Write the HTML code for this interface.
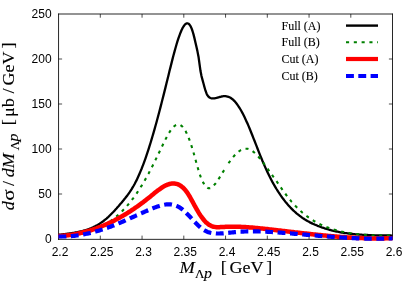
<!DOCTYPE html>
<html>
<head>
<meta charset="utf-8">
<title>Invariant mass spectrum</title>
<style>
html,body{margin:0;padding:0;background:#fff;}
body{width:414px;height:290px;overflow:hidden;}
svg{display:block;will-change:transform;}
.tk{font-family:"Liberation Sans",sans-serif;font-size:12px;fill:#000;}
.lg{font-family:"Liberation Serif",serif;font-size:12px;fill:#000;stroke:#000;stroke-width:0.1px;}
.ax{font-family:"Liberation Serif",serif;font-size:16.7px;fill:#000;stroke:#000;stroke-width:0.12px;}
.it{font-style:italic;}
.sub{font-size:13px;}
.subp{font-size:14.4px;font-style:italic;}
</style>
</head>
<body>
<svg width="414" height="290" viewBox="0 0 414 290">
<rect x="0" y="0" width="414" height="290" fill="#fff"/>
<!-- frame -->
<g fill="none" stroke="#000" stroke-width="0.85">
<path d="M58.55,13.6V239.8M392.5,13.6V239.8M58.1,14H392.9M58.1,239.35H392.9"/>
</g>
<g fill="none" stroke="#000" stroke-width="0.7">
<path d="M58.5,59h3.6M58.5,104h3.6M58.5,149h3.6M58.5,194h3.6M392.5,59h-3.6M392.5,104h-3.6M392.5,149h-3.6M392.5,194h-3.6"/>
<path d="M100.3,239.3v-3.7M142.05,239.3v-3.7M183.8,239.3v-3.7M225.55,239.3v-3.7M267.3,239.3v-3.7M309.05,239.3v-3.7M350.8,239.3v-3.7M100.3,14v3.7M142.05,14v3.7M183.8,14v3.7M225.55,14v3.7M267.3,14v3.7M309.05,14v3.7M350.8,14v3.7"/>
</g>
<!-- curves -->
<g fill="none" stroke-linejoin="round">
<path d="M58.5,234.9L59.5,234.7L60.5,234.6L61.5,234.5L62.5,234.3L63.5,234.2L64.5,234.1L65.5,234.0L66.5,233.8L67.5,233.7L68.5,233.6L69.5,233.4L70.5,233.3L71.5,233.1L72.5,233.0L73.5,232.8L74.5,232.7L75.5,232.5L76.5,232.3L77.5,232.1L78.5,231.9L79.5,231.7L80.5,231.5L81.5,231.3L82.5,231.0L83.5,230.7L84.5,230.5L85.5,230.2L86.5,229.8L87.5,229.5L88.5,229.2L89.5,228.8L90.5,228.4L91.5,228.0L92.5,227.5L93.5,227.1L94.5,226.6L95.5,226.1L96.5,225.5L97.5,225.0L98.5,224.4L99.5,223.8L100.5,223.1L101.5,222.4L102.5,221.7L103.5,221.0L104.5,220.2L105.5,219.4L106.5,218.6L107.5,217.7L108.5,216.8L109.5,215.8L110.5,214.8L111.5,213.8L112.5,212.8L113.5,211.8L114.5,210.7L115.5,209.6L116.5,208.5L117.5,207.3L118.5,206.2L119.5,205.0L120.5,203.8L121.5,202.7L122.5,201.5L123.5,200.3L124.5,199.0L125.5,197.8L126.5,196.5L127.5,195.2L128.5,193.8L129.5,192.4L130.5,190.9L131.5,189.4L132.5,187.7L133.5,186.0L134.5,184.2L135.5,182.3L136.5,180.4L137.5,178.3L138.5,176.1L139.5,173.8L140.5,171.4L141.5,169.0L142.5,166.4L143.5,163.8L144.5,161.1L145.5,158.3L146.5,155.4L147.5,152.4L148.5,149.3L149.5,146.2L150.5,143.0L151.5,139.7L152.5,136.3L153.5,132.9L154.5,129.4L155.5,125.8L156.5,122.2L157.5,118.5L158.5,114.8L159.5,111.0L160.5,107.1L161.5,103.3L162.5,99.3L163.5,95.4L164.5,91.4L165.5,87.4L166.5,83.3L167.5,79.3L168.5,75.2L169.5,71.1L170.5,67.1L171.5,63.1L172.5,59.1L173.5,55.3L174.5,51.6L175.5,48.0L176.5,44.5L177.5,41.2L178.5,38.2L179.5,35.3L180.5,32.7L181.5,30.3L182.5,28.2L183.5,26.5L184.5,25.1L185.5,24.0L186.5,23.4L187.5,23.3L188.5,23.7L189.5,24.6L190.5,26.1L191.5,28.2L192.5,31.0L193.5,34.4L194.5,38.4L195.5,42.7L196.5,47.1L197.5,51.6L198.5,56.7L199.5,63.9L200.5,71.1L201.5,76.1L202.5,79.9L203.5,83.5L204.5,87.2L205.5,90.7L206.5,93.4L207.5,95.4L208.5,96.7L209.5,97.5L210.5,98.0L211.5,98.3L212.5,98.4L213.5,98.4L214.5,98.3L215.5,98.1L216.5,97.9L217.5,97.6L218.5,97.3L219.5,97.0L220.5,96.8L221.5,96.5L222.5,96.3L223.5,96.2L224.5,96.2L225.5,96.2L226.5,96.4L227.5,96.6L228.5,96.9L229.5,97.3L230.5,97.8L231.5,98.5L232.5,99.2L233.5,100.1L234.5,101.1L235.5,102.3L236.5,103.5L237.5,104.9L238.5,106.3L239.5,107.9L240.5,109.5L241.5,111.3L242.5,113.1L243.5,115.1L244.5,117.1L245.5,119.2L246.5,121.4L247.5,123.6L248.5,125.9L249.5,128.3L250.5,130.7L251.5,133.2L252.5,135.7L253.5,138.3L254.5,140.8L255.5,143.4L256.5,145.9L257.5,148.5L258.5,151.1L259.5,153.6L260.5,156.1L261.5,158.5L262.5,161.0L263.5,163.3L264.5,165.6L265.5,167.9L266.5,170.1L267.5,172.2L268.5,174.3L269.5,176.3L270.5,178.3L271.5,180.2L272.5,182.1L273.5,183.9L274.5,185.6L275.5,187.3L276.5,189.0L277.5,190.6L278.5,192.2L279.5,193.7L280.5,195.2L281.5,196.6L282.5,198.0L283.5,199.3L284.5,200.6L285.5,201.9L286.5,203.1L287.5,204.3L288.5,205.4L289.5,206.5L290.5,207.6L291.5,208.6L292.5,209.6L293.5,210.6L294.5,211.5L295.5,212.4L296.5,213.3L297.5,214.1L298.5,214.9L299.5,215.7L300.5,216.4L301.5,217.2L302.5,217.9L303.5,218.5L304.5,219.2L305.5,219.8L306.5,220.4L307.5,221.0L308.5,221.5L309.5,222.1L310.5,222.6L311.5,223.1L312.5,223.6L313.5,224.0L314.5,224.5L315.5,224.9L316.5,225.3L317.5,225.8L318.5,226.1L319.5,226.5L320.5,226.9L321.5,227.3L322.5,227.6L323.5,227.9L324.5,228.3L325.5,228.6L326.5,228.9L327.5,229.2L328.5,229.5L329.5,229.8L330.5,230.0L331.5,230.3L332.5,230.6L333.5,230.8L334.5,231.0L335.5,231.3L336.5,231.5L337.5,231.7L338.5,231.9L339.5,232.1L340.5,232.3L341.5,232.5L342.5,232.6L343.5,232.8L344.5,233.0L345.5,233.1L346.5,233.2L347.5,233.4L348.5,233.5L349.5,233.6L350.5,233.8L351.5,233.9L352.5,234.0L353.5,234.1L354.5,234.2L355.5,234.3L356.5,234.4L357.5,234.4L358.5,234.5L359.5,234.6L360.5,234.7L361.5,234.7L362.5,234.8L363.5,234.9L364.5,234.9L365.5,235.0L366.5,235.0L367.5,235.0L368.5,235.1L369.5,235.1L370.5,235.2L371.5,235.2L372.5,235.2L373.5,235.2L374.5,235.3L375.5,235.3L376.5,235.3L377.5,235.3L378.5,235.4L379.5,235.4L380.5,235.4L381.5,235.4L382.5,235.4L383.5,235.4L384.5,235.5L385.5,235.5L386.5,235.5L387.5,235.5L388.5,235.5L389.5,235.5L390.5,235.5L391.5,235.6L392.5,235.6" stroke="#000" stroke-width="2.3"/>
<path d="M58.5,236.5L59.5,236.5L60.5,236.4L61.5,236.3L62.5,236.2L63.5,236.2L64.5,236.1L65.5,236.0L66.5,235.9L67.5,235.8L68.5,235.7L69.5,235.6L70.5,235.5L71.5,235.3L72.5,235.2L73.5,235.1L74.5,234.9L75.5,234.8L76.5,234.6L77.5,234.5L78.5,234.3L79.5,234.1L80.5,233.9L81.5,233.7L82.5,233.5L83.5,233.2L84.5,233.0L85.5,232.7L86.5,232.4L87.5,232.2L88.5,231.9L89.5,231.6L90.5,231.2L91.5,230.9L92.5,230.5L93.5,230.2L94.5,229.8L95.5,229.4L96.5,228.9L97.5,228.5L98.5,228.1L99.5,227.6L100.5,227.1L101.5,226.6L102.5,226.0L103.5,225.5L104.5,224.9L105.5,224.3L106.5,223.7L107.5,223.1L108.5,222.4L109.5,221.8L110.5,221.1L111.5,220.3L112.5,219.6L113.5,218.8L114.5,218.0L115.5,217.2L116.5,216.4L117.5,215.5L118.5,214.6L119.5,213.7L120.5,212.7L121.5,211.8L122.5,210.8L123.5,209.7L124.5,208.7L125.5,207.6L126.5,206.5L127.5,205.3L128.5,204.1L129.5,202.9L130.5,201.7L131.5,200.4L132.5,199.1L133.5,197.8L134.5,196.4L135.5,195.0L136.5,193.6L137.5,192.1L138.5,190.6L139.5,189.1L140.5,187.5L141.5,185.9L142.5,184.3L143.5,182.6L144.5,180.9L145.5,179.1L146.5,177.4L147.5,175.5L148.5,173.7L149.5,171.8L150.5,169.9L151.5,167.9L152.5,166.0L153.5,164.0L154.5,161.9L155.5,159.9L156.5,157.9L157.5,155.8L158.5,153.7L159.5,151.7L160.5,149.6L161.5,147.5L162.5,145.5L163.5,143.4L164.5,141.4L165.5,139.4L166.5,137.5L167.5,135.7L168.5,133.9L169.5,132.2L170.5,130.7L171.5,129.3L172.5,128.0L173.5,126.9L174.5,126.0L175.5,125.3L176.5,124.8L177.5,124.5L178.5,124.4L179.5,124.6L180.5,125.1L181.5,125.8L182.5,126.7L183.5,127.9L184.5,129.3L185.5,131.0L186.5,132.9L187.5,135.1L188.5,137.4L189.5,140.0L190.5,142.8L191.5,145.9L192.5,149.1L193.5,152.5L194.5,156.1L195.5,159.7L196.5,163.3L197.5,166.8L198.5,170.2L199.5,173.4L200.5,176.3L201.5,178.9L202.5,181.1L203.5,183.1L204.5,184.8L205.5,186.1L206.5,187.1L207.5,187.8L208.5,188.2L209.5,188.3L210.5,188.1L211.5,187.6L212.5,186.8L213.5,185.9L214.5,184.7L215.5,183.5L216.5,182.2L217.5,180.7L218.5,179.2L219.5,177.6L220.5,176.0L221.5,174.4L222.5,172.7L223.5,171.1L224.5,169.4L225.5,167.9L226.5,166.3" stroke="#008000" stroke-width="2.1" stroke-dasharray="3 4.68" stroke-dashoffset="6.90"/>
<path d="M226.5,166.3L227.5,164.8L228.5,163.3L229.5,161.9L230.5,160.5L231.5,159.1L232.5,157.9L233.5,156.7L234.5,155.5L235.5,154.5L236.5,153.5L237.5,152.6L238.5,151.7L239.5,151.0L240.5,150.3L241.5,149.8L242.5,149.4L243.5,149.0L244.5,148.8L245.5,148.7L246.5,148.7L247.5,148.8L248.5,149.1L249.5,149.4L250.5,149.9L251.5,150.5L252.5,151.1L253.5,151.9L254.5,152.7L255.5,153.6L256.5,154.6L257.5,155.7L258.5,156.8L259.5,158.0L260.5,159.2L261.5,160.5L262.5,161.8L263.5,163.1L264.5,164.5L265.5,165.8L266.5,167.2L267.5,168.6L268.5,170.0L269.5,171.4L270.5,172.8L271.5,174.2L272.5,175.6L273.5,177.0L274.5,178.4L275.5,179.8L276.5,181.2L277.5,182.6L278.5,184.1L279.5,185.5L280.5,186.9L281.5,188.4L282.5,189.8L283.5,191.2L284.5,192.6L285.5,194.0L286.5,195.3L287.5,196.7L288.5,197.9L289.5,199.2L290.5,200.4L291.5,201.6L292.5,202.7L293.5,203.8L294.5,204.9L295.5,206.0L296.5,207.0L297.5,208.0L298.5,209.0L299.5,210.0L300.5,210.9L301.5,211.8L302.5,212.7L303.5,213.5L304.5,214.3L305.5,215.1L306.5,215.9L307.5,216.6L308.5,217.4L309.5,218.1L310.5,218.8L311.5,219.4L312.5,220.1L313.5,220.7L314.5,221.3L315.5,221.8L316.5,222.4L317.5,222.9L318.5,223.5L319.5,224.0L320.5,224.5L321.5,224.9L322.5,225.4L323.5,225.8L324.5,226.3L325.5,226.7L326.5,227.1L327.5,227.4L328.5,227.8L329.5,228.2L330.5,228.5L331.5,228.8L332.5,229.1L333.5,229.5L334.5,229.7L335.5,230.0L336.5,230.3L337.5,230.6L338.5,230.8L339.5,231.1L340.5,231.3L341.5,231.6L342.5,231.8L343.5,232.0L344.5,232.2L345.5,232.4L346.5,232.6L347.5,232.8L348.5,232.9L349.5,233.1L350.5,233.3L351.5,233.4L352.5,233.6L353.5,233.7L354.5,233.8L355.5,234.0L356.5,234.1L357.5,234.2L358.5,234.3L359.5,234.4L360.5,234.5L361.5,234.6L362.5,234.7L363.5,234.8L364.5,234.8L365.5,234.9L366.5,235.0L367.5,235.0L368.5,235.1L369.5,235.2L370.5,235.2L371.5,235.2L372.5,235.3L373.5,235.3L374.5,235.4L375.5,235.4L376.5,235.4L377.5,235.4L378.5,235.5L379.5,235.5L380.5,235.5L381.5,235.5L382.5,235.5L383.5,235.5L384.5,235.5L385.5,235.5L386.5,235.6L387.5,235.6L388.5,235.6L389.5,235.6L390.5,235.6L391.5,235.6L392.5,235.6" stroke="#008000" stroke-width="2.1" stroke-dasharray="3 4.68" stroke-dashoffset="4.00"/>
<path d="M58.5,236.1L59.5,236.0L60.5,236.0L61.5,235.9L62.5,235.8L63.5,235.7L64.5,235.6L65.5,235.5L66.5,235.4L67.5,235.3L68.5,235.2L69.5,235.1L70.5,234.9L71.5,234.8L72.5,234.6L73.5,234.4L74.5,234.3L75.5,234.1L76.5,233.9L77.5,233.7L78.5,233.5L79.5,233.3L80.5,233.0L81.5,232.8L82.5,232.5L83.5,232.3L84.5,232.0L85.5,231.8L86.5,231.5L87.5,231.2L88.5,230.9L89.5,230.6L90.5,230.3L91.5,230.0L92.5,229.7L93.5,229.3L94.5,229.0L95.5,228.6L96.5,228.3L97.5,227.9L98.5,227.5L99.5,227.1L100.5,226.8L101.5,226.3L102.5,225.9L103.5,225.5L104.5,225.1L105.5,224.7L106.5,224.2L107.5,223.8L108.5,223.3L109.5,222.8L110.5,222.4L111.5,221.9L112.5,221.4L113.5,220.9L114.5,220.4L115.5,219.8L116.5,219.3L117.5,218.8L118.5,218.2L119.5,217.7L120.5,217.1L121.5,216.6L122.5,216.0L123.5,215.4L124.5,214.8L125.5,214.2L126.5,213.6L127.5,213.0L128.5,212.3L129.5,211.7L130.5,211.1L131.5,210.4L132.5,209.7L133.5,209.1L134.5,208.4L135.5,207.7L136.5,207.0L137.5,206.3L138.5,205.6L139.5,204.9L140.5,204.1L141.5,203.4L142.5,202.7L143.5,201.9L144.5,201.1L145.5,200.4L146.5,199.6L147.5,198.8L148.5,198.0L149.5,197.2L150.5,196.4L151.5,195.6L152.5,194.8L153.5,193.9L154.5,193.1L155.5,192.3L156.5,191.5L157.5,190.7L158.5,190.0L159.5,189.3L160.5,188.6L161.5,187.9L162.5,187.2L163.5,186.6L164.5,186.1L165.5,185.6L166.5,185.1L167.5,184.7L168.5,184.3L169.5,184.0L170.5,183.8L171.5,183.6L172.5,183.5L173.5,183.5L174.5,183.6L175.5,183.7L176.5,183.9L177.5,184.2L178.5,184.6L179.5,185.1L180.5,185.7L181.5,186.4L182.5,187.2L183.5,188.2L184.5,189.2L185.5,190.3L186.5,191.6L187.5,193.0L188.5,194.6L189.5,196.2L190.5,198.0L191.5,199.8L192.5,201.6L193.5,203.5L194.5,205.4L195.5,207.2L196.5,209.0L197.5,210.7L198.5,212.4L199.5,214.0L200.5,215.5L201.5,216.9L202.5,218.3L203.5,219.5L204.5,220.7L205.5,221.8L206.5,222.8L207.5,223.6L208.5,224.4L209.5,225.1L210.5,225.6L211.5,226.1L212.5,226.5L213.5,226.7L214.5,226.9L215.5,227.1L216.5,227.2L217.5,227.2L218.5,227.2L219.5,227.2L220.5,227.1L221.5,227.1L222.5,227.0L223.5,226.9L224.5,226.9L225.5,226.8L226.5,226.8L227.5,226.8L228.5,226.7L229.5,226.7L230.5,226.7L231.5,226.7L232.5,226.7L233.5,226.7L234.5,226.7L235.5,226.7L236.5,226.7L237.5,226.7L238.5,226.8L239.5,226.8L240.5,226.8L241.5,226.9L242.5,226.9L243.5,227.0L244.5,227.0L245.5,227.1L246.5,227.2L247.5,227.2L248.5,227.3L249.5,227.4L250.5,227.5L251.5,227.5L252.5,227.6L253.5,227.7L254.5,227.8L255.5,227.9L256.5,228.0L257.5,228.1L258.5,228.2L259.5,228.3L260.5,228.4L261.5,228.5L262.5,228.6L263.5,228.7L264.5,228.8L265.5,228.9L266.5,229.0L267.5,229.1L268.5,229.2L269.5,229.4L270.5,229.5L271.5,229.6L272.5,229.7L273.5,229.8L274.5,229.9L275.5,230.0L276.5,230.2L277.5,230.3L278.5,230.4L279.5,230.5L280.5,230.6L281.5,230.7L282.5,230.9L283.5,231.0L284.5,231.1L285.5,231.2L286.5,231.3L287.5,231.4L288.5,231.6L289.5,231.7L290.5,231.8L291.5,231.9L292.5,232.0L293.5,232.1L294.5,232.3L295.5,232.4L296.5,232.5L297.5,232.6L298.5,232.7L299.5,232.8L300.5,232.9L301.5,233.1L302.5,233.2L303.5,233.3L304.5,233.4L305.5,233.5L306.5,233.6L307.5,233.7L308.5,233.8L309.5,234.0L310.5,234.1L311.5,234.2L312.5,234.3L313.5,234.4L314.5,234.5L315.5,234.6L316.5,234.7L317.5,234.8L318.5,234.9L319.5,235.0L320.5,235.1L321.5,235.2L322.5,235.3L323.5,235.4L324.5,235.5L325.5,235.6L326.5,235.7L327.5,235.8L328.5,235.9L329.5,236.0L330.5,236.1L331.5,236.2L332.5,236.2L333.5,236.3L334.5,236.4L335.5,236.5L336.5,236.6L337.5,236.7L338.5,236.7L339.5,236.8L340.5,236.9L341.5,237.0L342.5,237.0L343.5,237.1L344.5,237.2L345.5,237.3L346.5,237.3L347.5,237.4L348.5,237.5L349.5,237.5L350.5,237.6L351.5,237.6L352.5,237.7L353.5,237.7L354.5,237.8L355.5,237.8L356.5,237.9L357.5,237.9L358.5,238.0L359.5,238.0L360.5,238.1L361.5,238.1L362.5,238.1L363.5,238.2L364.5,238.2L365.5,238.2L366.5,238.3L367.5,238.3L368.5,238.3L369.5,238.3L370.5,238.4L371.5,238.4L372.5,238.4L373.5,238.4L374.5,238.4L375.5,238.4L376.5,238.4L377.5,238.4L378.5,238.4L379.5,238.4L380.5,238.4L381.5,238.4L382.5,238.4L383.5,238.4L384.5,238.4L385.5,238.3L386.5,238.3L387.5,238.3L388.5,238.3L389.5,238.2L390.5,238.2L391.5,238.2L392.5,238.1" stroke="#ff0000" stroke-width="4.5"/>
<path d="M58.5,236.5L59.5,236.5L60.5,236.5L61.5,236.5L62.5,236.5L63.5,236.5L64.5,236.5L65.5,236.5L66.5,236.4L67.5,236.4L68.5,236.3L69.5,236.2L70.5,236.2L71.5,236.1L72.5,236.0L73.5,235.9L74.5,235.8L75.5,235.7L76.5,235.5L77.5,235.4L78.5,235.2L79.5,235.1L80.5,234.9L81.5,234.8L82.5,234.6L83.5,234.4L84.5,234.2L85.5,234.0L86.5,233.8L87.5,233.6L88.5,233.4L89.5,233.2L90.5,232.9L91.5,232.7L92.5,232.4L93.5,232.2L94.5,231.9L95.5,231.6L96.5,231.3L97.5,231.0L98.5,230.7L99.5,230.4L100.5,230.1L101.5,229.8L102.5,229.5L103.5,229.2L104.5,228.8L105.5,228.5L106.5,228.1L107.5,227.8L108.5,227.4L109.5,227.0L110.5,226.7L111.5,226.3L112.5,225.9L113.5,225.5L114.5,225.1L115.5,224.7L116.5,224.3L117.5,223.8L118.5,223.4L119.5,223.0L120.5,222.6L121.5,222.1L122.5,221.7L123.5,221.3L124.5,220.8L125.5,220.4L126.5,219.9L127.5,219.5L128.5,219.0L129.5,218.6L130.5,218.1L131.5,217.7L132.5,217.2L133.5,216.8L134.5,216.3L135.5,215.9L136.5,215.4L137.5,215.0L138.5,214.5L139.5,214.0L140.5,213.6L141.5,213.2L142.5,212.7L143.5,212.3L144.5,211.8L145.5,211.4L146.5,211.0L147.5,210.5L148.5,210.1L149.5,209.7L150.5,209.3L151.5,208.8L152.5,208.4L153.5,208.0L154.5,207.6L155.5,207.3L156.5,206.9L157.5,206.5L158.5,206.2L159.5,205.9L160.5,205.6L161.5,205.3L162.5,205.1L163.5,204.9L164.5,204.7L165.5,204.5L166.5,204.4L167.5,204.4L168.5,204.3L169.5,204.3L170.5,204.4L171.5,204.5L172.5,204.7L173.5,204.9L174.5,205.1L175.5,205.5L176.5,205.9L177.5,206.3L178.5,206.8L179.5,207.4L180.5,208.0L181.5,208.8L182.5,209.5L183.5,210.4L184.5,211.3L185.5,212.2L186.5,213.2L187.5,214.2L188.5,215.2L189.5,216.3L190.5,217.3L191.5,218.4L192.5,219.5L193.5,220.6L194.5,221.7L195.5,222.7L196.5,223.7L197.5,224.7L198.5,225.7L199.5,226.6L200.5,227.5L201.5,228.3L202.5,229.1L203.5,229.8L204.5,230.4L205.5,230.9L206.5,231.4L207.5,231.9L208.5,232.2L209.5,232.5L210.5,232.8L211.5,233.0L212.5,233.1L213.5,233.3L214.5,233.4L215.5,233.4L216.5,233.5L217.5,233.5L218.5,233.5L219.5,233.5L220.5,233.4L221.5,233.4L222.5,233.3L223.5,233.3L224.5,233.2L225.5,233.1L226.5,233.0L227.5,232.9L228.5,232.8L229.5,232.7L230.5,232.6L231.5,232.5L232.5,232.4L233.5,232.3L234.5,232.2L235.5,232.1L236.5,232.0L237.5,232.0L238.5,231.9L239.5,231.8L240.5,231.7L241.5,231.7L242.5,231.6L243.5,231.6L244.5,231.5L245.5,231.5L246.5,231.5L247.5,231.4L248.5,231.4L249.5,231.4L250.5,231.4L251.5,231.4L252.5,231.4L253.5,231.4L254.5,231.4L255.5,231.4L256.5,231.4L257.5,231.4L258.5,231.4L259.5,231.5L260.5,231.5L261.5,231.5L262.5,231.6L263.5,231.6L264.5,231.7L265.5,231.7L266.5,231.7L267.5,231.8L268.5,231.9L269.5,231.9L270.5,232.0L271.5,232.0L272.5,232.1L273.5,232.2L274.5,232.2L275.5,232.3L276.5,232.4L277.5,232.4L278.5,232.5L279.5,232.6L280.5,232.7L281.5,232.7L282.5,232.8L283.5,232.9L284.5,233.0L285.5,233.0L286.5,233.1L287.5,233.2L288.5,233.3L289.5,233.4L290.5,233.4L291.5,233.5L292.5,233.6L293.5,233.7L294.5,233.8L295.5,233.9L296.5,233.9L297.5,234.0L298.5,234.1L299.5,234.2L300.5,234.3L301.5,234.4L302.5,234.5L303.5,234.5L304.5,234.6L305.5,234.7L306.5,234.8L307.5,234.9L308.5,235.0L309.5,235.0L310.5,235.1L311.5,235.2L312.5,235.3L313.5,235.4L314.5,235.5L315.5,235.5L316.5,235.6L317.5,235.7L318.5,235.8L319.5,235.9L320.5,236.0L321.5,236.0L322.5,236.1L323.5,236.2L324.5,236.3L325.5,236.3L326.5,236.4L327.5,236.5L328.5,236.6L329.5,236.7L330.5,236.7L331.5,236.8L332.5,236.9L333.5,236.9L334.5,237.0L335.5,237.1L336.5,237.2L337.5,237.2L338.5,237.3L339.5,237.4L340.5,237.4L341.5,237.5L342.5,237.5L343.5,237.6L344.5,237.7L345.5,237.7L346.5,237.8L347.5,237.8L348.5,237.9L349.5,237.9L350.5,238.0L351.5,238.0L352.5,238.1L353.5,238.1L354.5,238.2L355.5,238.2L356.5,238.3L357.5,238.3L358.5,238.3L359.5,238.4L360.5,238.4L361.5,238.4L362.5,238.5L363.5,238.5L364.5,238.5L365.5,238.6L366.5,238.6L367.5,238.6L368.5,238.6L369.5,238.6L370.5,238.6L371.5,238.7L372.5,238.7L373.5,238.7L374.5,238.7L375.5,238.7L376.5,238.7L377.5,238.7L378.5,238.7L379.5,238.7L380.5,238.7L381.5,238.7L382.5,238.6L383.5,238.6L384.5,238.6L385.5,238.6L386.5,238.6L387.5,238.5L388.5,238.5L389.5,238.5L390.5,238.5L391.5,238.4L392.5,238.4" stroke="#0000ff" stroke-width="4.2" stroke-dasharray="7.8 4.58"/>
</g>
<!-- y tick labels -->
<g class="tk" text-anchor="end">
<text x="51.6" y="18.2">250</text>
<text x="51.6" y="63.2">200</text>
<text x="51.6" y="108.2">150</text>
<text x="51.6" y="153.2">100</text>
<text x="51.6" y="198.2">50</text>
<text x="51.6" y="243.2">0</text>
</g>
<!-- x tick labels -->
<g class="tk" text-anchor="middle">
<text x="60" y="255.6">2.2</text>
<text x="101.75" y="255.6">2.25</text>
<text x="143.5" y="255.6">2.3</text>
<text x="185.25" y="255.6">2.35</text>
<text x="227" y="255.6">2.4</text>
<text x="268.75" y="255.6">2.45</text>
<text x="310.5" y="255.6">2.5</text>
<text x="352.25" y="255.6">2.55</text>
<text x="394" y="255.6">2.6</text>
</g>
<!-- legend -->
<g class="lg">
<text x="281.5" y="29.5">Full (A)</text>
<text x="281.5" y="46.2">Full (B)</text>
<text x="281.5" y="63">Cut (A)</text>
<text x="281.5" y="80">Cut (B)</text>
</g>
<g fill="none">
<path d="M346,25.6H378" stroke="#000" stroke-width="2.4"/>
<path d="M346,42.2H378" stroke="#008000" stroke-width="2" stroke-dasharray="3.1 4.7"/>
<path d="M346,59.0H378" stroke="#ff0000" stroke-width="4.2"/>
<path d="M346,76.0H378" stroke="#0000ff" stroke-width="4.1" stroke-dasharray="7.9 4.4"/>
</g>
<!-- x label -->
<g class="ax">
<text class="it" transform="translate(179.4,273.2) scale(1.1,1)">M</text>
<text class="sub" transform="translate(195.0,278.3) scale(1,1)">Λ</text>
<text class="subp" transform="translate(203.9,278.3) scale(1.1,1)">p</text>
<text transform="translate(220.8,273.2) scale(1.08,1)">[</text>
<text transform="translate(229.4,273.2) scale(1.08,1)">GeV</text>
<text transform="translate(266.35,273.2) scale(1.08,1)">]</text>
</g>
<!-- y label -->
<g class="ax" transform="translate(13.8,209.8) rotate(-90)">
<text class="it" transform="translate(-0.54,0) scale(1.08,1)">d</text>
<text transform="translate(9.0,0) scale(1.26,1)">σ</text>
<text transform="translate(23.9,0) scale(1.08,1)">/</text>
<text class="it" transform="translate(32.6,0) scale(1.08,1)">dM</text>
<text class="sub" transform="translate(59.5,4.7) scale(1,1)">Λ</text>
<text class="subp" transform="translate(68.4,4.0) scale(1.1,1)">p</text>
<text transform="translate(84.5,0) scale(1.08,1)">[</text>
<text transform="translate(92.8,0) scale(1.08,1)">μb</text>
<text transform="translate(116.4,0) scale(1.08,1)">/</text>
<text transform="translate(124.3,0) scale(1.08,1)">GeV</text>
<text transform="translate(161.4,0) scale(1.08,1)">]</text>
</g>
</svg>
</body>
</html>
